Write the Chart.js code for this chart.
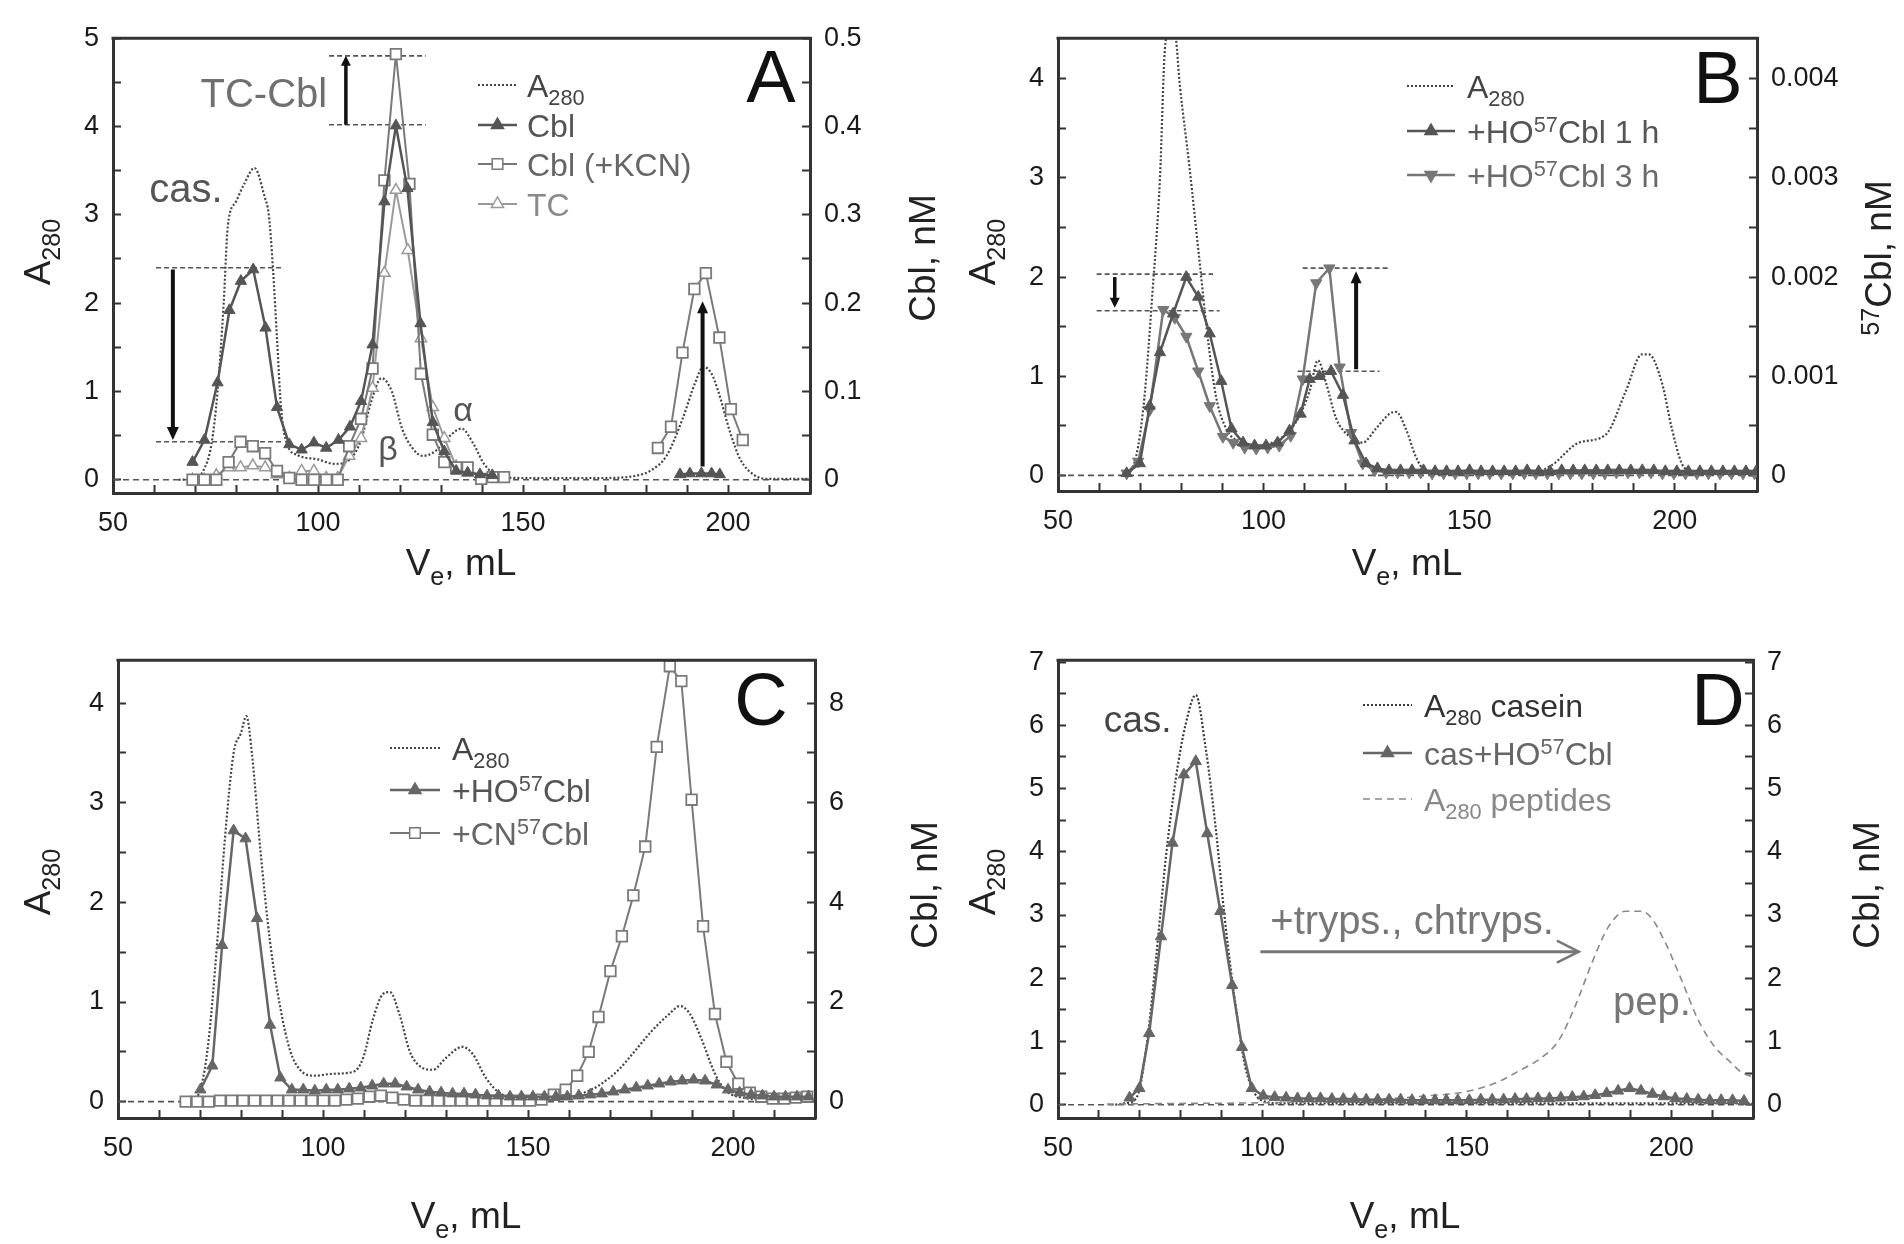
<!DOCTYPE html>
<html><head><meta charset="utf-8">
<script src="https://cdn.jsdelivr.net/npm/chart.js@4.4.1/dist/chart.umd.min.js"></script>
<style>
html,body{margin:0;padding:0;background:#fff;}
#wrap{position:relative;width:1904px;height:1244px;overflow:hidden;background:#fff;}
#wrap canvas{position:absolute;}
</style></head><body>
<div id="wrap">
<canvas id="cA" width="952" height="622" style="left:0px;top:0px"></canvas>
<canvas id="cB" width="952" height="622" style="left:952px;top:0px"></canvas>
<canvas id="cC" width="952" height="622" style="left:0px;top:622px"></canvas>
<canvas id="cD" width="952" height="622" style="left:952px;top:622px"></canvas>
</div>
<script>
// ================= DATA =================
// Panel A  (x: Ve, mL; A280 on left axis; Cbl series in nM on right axis)
const A_x_a280 = [66, 70, 72, 74, 75.5, 77, 78, 80, 82, 84.5, 87, 88, 89, 90, 91, 92.5, 95, 100, 104, 108, 110.5, 113, 115.5, 118, 120.5, 123, 125.5, 128.5, 132, 135, 138, 140.5, 144.5, 150, 160, 170, 178, 181, 185, 189, 192, 194, 196, 197.5, 200.5, 203, 206.5, 210, 220];
const A_y_a280 = [0, 0.02, 0.1, 0.4, 1.0, 2.0, 2.87, 3.15, 3.35, 3.53, 3.2, 3.0, 2.4, 1.6, 0.8, 0.4, 0.28, 0.23, 0.18, 0.24, 0.45, 0.89, 1.15, 1.0, 0.58, 0.36, 0.27, 0.32, 0.49, 0.58, 0.4, 0.18, 0.03, 0.02, 0.02, 0.02, 0.05, 0.1, 0.27, 0.7, 1.1, 1.28, 1.2, 1.02, 0.54, 0.23, 0.05, 0.01, 0.01];
const A_x_cbl = [69.4, 72.3, 75.5, 78.4, 81.2, 84.2, 87.2, 90, 93, 96, 99, 102, 105, 107.8, 110.5, 113.3, 116.2, 119, 121.8, 125, 128, 130.8, 133.7, 136.5, 139.5, 142.5, 165, 188.3, 190.7, 193.5, 196, 198];
const A_y_cbl = [0.020, 0.045, 0.110, 0.192, 0.225, 0.238, 0.172, 0.082, 0.040, 0.034, 0.042, 0.036, 0.045, 0.060, 0.089, 0.153, 0.315, 0.401, 0.330, 0.177, 0.065, 0.032, 0.010, 0.008, 0.006, 0.005, null, 0.006, 0.007, 0.007, 0.007, 0.006];
const A_x_kcn = [69.4, 72.3, 75.2, 78.2, 81.1, 84.1, 87.1, 90, 93, 96, 99, 102, 104.8, 107.6, 110.5, 113.3, 116.2, 119, 122.3, 125.1, 128, 130.8, 133.7, 136.5, 139.8, 142.6, 145.4, 165, 182.9, 186.1, 188.9, 191.8, 194.6, 197.9, 200.7, 203.6];
const A_y_kcn = [0, 0, 0, 0.020, 0.043, 0.038, 0.030, 0.010, 0.002, 0, 0, 0, 0, 0.038, 0.069, 0.126, 0.339, 0.482, 0.335, 0.120, 0.051, 0.020, 0.014, 0.014, 0.001, 0.003, 0.003, null, 0.036, 0.060, 0.144, 0.216, 0.234, 0.161, 0.080, 0.045];
const A_x_tc = [69.4, 72.3, 75.2, 78.2, 81.1, 84.1, 87.1, 90, 93, 96, 99, 102, 104.8, 107.6, 110.5, 113.3, 116.2, 119, 121.9, 125.1, 128, 130.8, 133.7, 136.5];
const A_y_tc = [0, 0, 0.005, 0.014, 0.014, 0.016, 0.014, 0.006, 0.002, 0.010, 0.010, 0.002, 0.002, 0.027, 0.047, 0.104, 0.234, 0.328, 0.260, 0.160, 0.082, 0.047, 0.015, 0.008];

// Panel B  (57Cbl in nM on right axis)
const B_x_a280 = [66, 69, 71, 73, 74.8, 76, 77.2, 78.5, 79.6, 82, 84.5, 86.5, 88.5, 90.9, 93.4, 96.6, 100.6, 104.7, 107.9, 111.2, 113.2, 115.2, 117.6, 120.9, 124.1, 127.3, 130.6, 132.2, 134.6, 137, 139.5, 145, 155, 165, 170, 176.7, 183.2, 188.1, 192, 193.7, 196.9, 199.3, 201.7, 204.1, 210, 220];
const B_y_a280 = [0, 0.19, 0.78, 1.86, 3.0, 4.3, 4.5, 4.45, 3.95, 3.1, 2.13, 1.36, 0.78, 0.47, 0.35, 0.29, 0.31, 0.39, 0.54, 0.85, 1.16, 0.93, 0.58, 0.39, 0.33, 0.47, 0.62, 0.64, 0.47, 0.19, 0.04, 0.02, 0.02, 0.02, 0.1, 0.33, 0.41, 0.85, 1.22, 1.22, 0.93, 0.47, 0.12, 0.04, 0.02, 0.02];
const B_x_1h = [66.7, 69.9, 72.3, 74.8, 78.0, 81.2, 84.1, 86.9, 89.7, 92.2, 95.0, 97.8, 100.6, 103.4, 106.3, 109.0, 111.2, 113.6, 116.4, 119.3, 122.1, 124.9, 127.7, 130.5, 133.3, 136.1, 138.9, 141.7, 144.5, 147.3, 150.1, 152.9, 155.7, 158.5, 161.3, 164.1, 166.9, 169.7, 172.5, 175.3, 178.1, 180.9, 183.7, 186.5, 189.3, 192.1, 194.9, 197.7, 200.5, 203.3, 206.1, 208.9, 211.7, 214.5, 217.3, 219.8];
const B_y_1h = [0.00002, 0.00012, 0.00070, 0.00124, 0.00163, 0.00200, 0.00180, 0.00143, 0.00095, 0.00047, 0.00033, 0.00030, 0.00030, 0.00033, 0.00045, 0.00062, 0.00097, 0.00100, 0.00105, 0.00081, 0.00035, 0.00012, 0.00007, 0.00005, 0.00005, 0.00005, 0.00005, 0.00004, 0.00004, 0.00004, 0.00005, 0.00004, 0.00004, 0.00004, 0.00004, 0.00005, 0.00004, 0.00004, 0.00005, 0.00005, 0.00005, 0.00005, 0.00005, 0.00005, 0.00005, 0.00005, 0.00005, 0.00004, 0.00004, 0.00004, 0.00004, 0.00004, 0.00004, 0.00004, 0.00004, 0.00004];
const B_x_3h = [66.7, 69.5, 72.3, 75.6, 78.4, 81.2, 84.1, 86.9, 90.1, 92.6, 95.4, 98.2, 101.0, 103.8, 106.6, 109.5, 112.8, 116.0, 118.5, 121.3, 124.1, 127.0, 129.8, 132.6, 135.4, 138.2, 141.0, 143.8, 146.6, 149.4, 152.2, 155.0, 157.8, 160.6, 163.4, 166.2, 169.0, 171.8, 174.6, 177.4, 180.2, 183.0, 185.8, 188.6, 191.4, 194.2, 197.0, 199.8, 202.6, 205.4, 208.2, 211.0, 213.8, 216.6, 219.4];
const B_y_3h = [0.00002, 0.00014, 0.00066, 0.00167, 0.00159, 0.00140, 0.00105, 0.00070, 0.00039, 0.00033, 0.00028, 0.00027, 0.00028, 0.00030, 0.00040, 0.00097, 0.00194, 0.00209, 0.00109, 0.00043, 0.00012, 0.00005, 0.00003, 0.00003, 0.00003, 0.00003, 0.00002, 0.00002, 0.00002, 0.00002, 0.00002, 0.00002, 0.00002, 0.00002, 0.00002, 0.00002, 0.00002, 0.00002, 0.00002, 0.00002, 0.00002, 0.00002, 0.00003, 0.00003, 0.00003, 0.00003, 0.00002, 0.00002, 0.00002, 0.00002, 0.00002, 0.00002, 0.00002, 0.00002, 0.00002];

// Panel C  (Cbl in nM on right axis)
const C_x_a280 = [66, 69.3, 71.8, 74.2, 76, 78.2, 80, 81.3, 82.7, 84.7, 87.1, 89.6, 92, 94.4, 97.7, 102.5, 107.4, 109.8, 112.2, 114.6, 116.3, 118.7, 121.1, 123.5, 126.8, 130, 134, 136.5, 139.7, 143, 150, 159, 163, 167.2, 172.1, 175.3, 180.2, 184.2, 187.1, 189.5, 192.3, 195.6, 198, 201.2, 210, 220];
const C_y_a280 = [0, 0.05, 0.51, 1.6, 2.6, 3.5, 3.7, 3.87, 3.48, 2.54, 1.6, 0.94, 0.51, 0.32, 0.26, 0.28, 0.3, 0.44, 0.83, 1.08, 1.1, 0.87, 0.51, 0.36, 0.32, 0.44, 0.55, 0.48, 0.24, 0.09, 0.02, 0.03, 0.08, 0.16, 0.32, 0.47, 0.71, 0.87, 0.96, 0.88, 0.63, 0.28, 0.12, 0.05, 0.02, 0.02];
const C_x_ho = [70.1, 73, 75.4, 78.2, 81.1, 83.9, 87.1, 89.6, 92.4, 95.2, 98, 100.8, 103.6, 106.4, 109.2, 112, 114.8, 117.6, 120.4, 123.2, 126, 128.8, 131.6, 134.4, 137.2, 140, 142.8, 145.6, 148.4, 151.2, 154, 156.8, 159.6, 162.4, 165.2, 168, 170.8, 173.6, 176.4, 179.2, 182, 184.8, 187.6, 190.4, 193.2, 196, 198.8, 201.6, 204.4, 207.2, 210, 212.8, 215.6, 218.4];
const C_y_ho = [0.24, 0.72, 3.14, 5.44, 5.28, 3.68, 1.54, 0.48, 0.24, 0.24, 0.22, 0.24, 0.24, 0.26, 0.28, 0.32, 0.36, 0.36, 0.30, 0.24, 0.20, 0.18, 0.16, 0.16, 0.14, 0.12, 0.12, 0.10, 0.10, 0.10, 0.10, 0.10, 0.10, 0.12, 0.14, 0.16, 0.20, 0.24, 0.28, 0.32, 0.36, 0.40, 0.42, 0.44, 0.42, 0.34, 0.24, 0.18, 0.14, 0.12, 0.10, 0.10, 0.10, 0.10];
const C_x_cn = [66.5, 69.3, 72.1, 74.9, 77.7, 80.5, 83.3, 86.1, 88.9, 91.7, 94.5, 97.3, 100.1, 102.9, 105.7, 108.5, 111.3, 114.1, 116.9, 119.7, 122.5, 125.3, 128.1, 130.9, 133.7, 136.5, 139.3, 142.1, 144.9, 147.7, 150.5, 153.3, 156.3, 159.2, 162.0, 164.8, 167.2, 170.1, 172.9, 175.7, 178.6, 181.4, 184.6, 187.4, 189.9, 192.7, 195.6, 198.4, 201.3, 204.1, 206.9, 209.7, 212.5, 215.3, 218.1];
const C_y_cn = [0, 0, 0, 0.02, 0.02, 0.02, 0.02, 0.02, 0.02, 0.02, 0.02, 0.02, 0.02, 0.02, 0.04, 0.06, 0.10, 0.12, 0.08, 0.04, 0.02, 0.02, 0.02, 0.02, 0.02, 0.02, 0.02, 0.02, 0.02, 0.02, 0.02, 0.04, 0.14, 0.24, 0.52, 1.00, 1.70, 2.62, 3.32, 4.14, 5.12, 7.12, 8.74, 8.44, 6.06, 3.52, 1.76, 0.80, 0.36, 0.18, 0.10, 0.06, 0.06, 0.08, 0.10];

// Panel D
const D_x_cas = [64, 65.9, 69.1, 71.5, 73.9, 76.4, 78.8, 81.2, 83.7, 86.1, 88.5, 90.9, 93.4, 95.8, 98.2, 100.6, 105, 120, 140, 160, 180, 200, 220];
const D_y_cas = [0, 0.02, 0.1, 0.85, 2.26, 3.92, 5.15, 6.01, 6.48, 5.65, 4.42, 2.88, 1.59, 0.6, 0.17, 0.05, 0.02, 0.02, 0.02, 0.02, 0.02, 0.02, 0.02];
const D_x_ho = [67.5, 69.9, 72.3, 75.2, 78.0, 80.8, 83.7, 86.5, 89.7, 92.6, 95.0, 97.4, 100.2, 103.0, 105.8, 108.6, 111.4, 114.2, 117.0, 119.8, 122.6, 125.4, 128.2, 131.0, 133.8, 136.6, 139.4, 142.2, 145.0, 147.8, 150.6, 153.4, 156.2, 159.0, 161.8, 164.6, 167.4, 170.2, 173.0, 175.8, 178.6, 181.4, 184.2, 187.0, 189.8, 192.6, 195.4, 198.2, 201.0, 203.8, 206.6, 209.4, 212.2, 215.0, 217.8];
const D_y_ho = [0.11, 0.26, 1.13, 2.66, 4.14, 5.22, 5.43, 4.29, 3.06, 1.89, 0.91, 0.26, 0.14, 0.12, 0.11, 0.10, 0.10, 0.10, 0.09, 0.09, 0.09, 0.08, 0.08, 0.08, 0.08, 0.07, 0.07, 0.07, 0.07, 0.07, 0.07, 0.08, 0.08, 0.08, 0.09, 0.09, 0.10, 0.10, 0.11, 0.12, 0.13, 0.15, 0.18, 0.22, 0.26, 0.22, 0.17, 0.13, 0.10, 0.09, 0.08, 0.07, 0.07, 0.07, 0.06];
const D_x_pep = [62, 80, 100, 120, 140.3, 149.2, 156.5, 162.9, 168.6, 172.6, 176.7, 180.7, 184.7, 188.8, 192.9, 195.3, 198.5, 202.6, 206.6, 210.7, 214.7, 217.2, 220];
const D_y_pep = [0.01, 0.02, 0.03, 0.06, 0.14, 0.2, 0.33, 0.54, 0.76, 1.03, 1.59, 2.26, 2.82, 3.06, 3.06, 2.94, 2.57, 1.96, 1.34, 0.91, 0.66, 0.51, 0.44];

// Axis tick labels
const X_LABELS = [50, 100, 150, 200];

// ================= DRAWING HELPERS =================
const FONT = '"Liberation Sans", Arial, Helvetica, sans-serif';

function parseRich(str) {
  const out = []; const re = /([_^])\{([^}]*)\}/g; let last = 0, m;
  while ((m = re.exec(str))) {
    if (m.index > last) out.push({t: str.slice(last, m.index)});
    out.push({t: m[2], s: m[1] === '_' ? 'sub' : 'sup'});
    last = re.lastIndex;
  }
  if (last < str.length) out.push({t: str.slice(last)});
  return out;
}
function drawRich(ctx, str, x, y, size, color, align, rot, weight) {
  const segs = parseRich(str);
  const w8 = weight || 'normal';
  const sc = 0.68;
  ctx.save();
  ctx.translate(x, y);
  if (rot) ctx.rotate(rot);
  let w = 0;
  for (const s of segs) { ctx.font = `${w8} ${s.s ? size * sc : size}px ${FONT}`; w += ctx.measureText(s.t).width; }
  let cx = align === 'center' ? -w / 2 : (align === 'right' ? -w : 0);
  ctx.fillStyle = color; ctx.textBaseline = 'alphabetic'; ctx.textAlign = 'left';
  const base = size * 0.36;
  for (const s of segs) {
    const fs = s.s ? size * sc : size;
    ctx.font = `${w8} ${fs}px ${FONT}`;
    const dy = s.s === 'sub' ? size * 0.26 : (s.s === 'sup' ? -size * 0.34 : 0);
    ctx.fillText(s.t, cx, base + dy);
    cx += ctx.measureText(s.t).width;
  }
  ctx.restore();
}
function drawMarker(ctx, style, x, y, r, fill, stroke, lw) {
  ctx.save(); ctx.beginPath();
  if (style === 'triangle' || style === 'triangleDown') {
    const s = style === 'triangle' ? 1 : -1;
    ctx.moveTo(x, y - s * r); ctx.lineTo(x + r * 0.866, y + s * r * 0.5); ctx.lineTo(x - r * 0.866, y + s * r * 0.5);
    ctx.closePath();
  } else if (style === 'rect') {
    const h = r * Math.SQRT1_2; ctx.rect(x - h, y - h, 2 * h, 2 * h);
  }
  ctx.fillStyle = fill; ctx.fill(); ctx.lineWidth = lw; ctx.strokeStyle = stroke; ctx.stroke();
  ctx.restore();
}
function arrowHead(ctx, x, y, ang, len, half, open) {
  ctx.save(); ctx.translate(x, y); ctx.rotate(ang); ctx.beginPath();
  if (open) { ctx.moveTo(-len, -half); ctx.lineTo(0, 0); ctx.lineTo(-len, half); ctx.stroke(); }
  else { ctx.moveTo(0, 0); ctx.lineTo(-len, -half); ctx.lineTo(-len, half); ctx.closePath(); ctx.fill(); }
  ctx.restore();
}

// ================= DECORATION (legends, titles, annotations) =================
const LEG = 32, TTL = 37, LET = 74;
const DOT = [2, 2];
const DECOR = {
  cA: {
    off: [0, 0],
    refLines: [[60.5, 91, 2.4], [60.5, 91, 0.43], [102.7, 126.3, 4.8], [102.7, 126.3, 4.02]],
    vArrows: [[64.6, 2.38, 0.45, 4, 13, 6], [106.8, 4.02, 4.8, 3.5, 10, 5], [193.8, 0.15, 2.02, 4, 12, 5.5]],
    hArrows: [],
    texts: [{t: 'TC-Cbl', x: 86.8, y: 4.38, size: 40, color: '#6f6f6f'}, {t: 'cas.', x: 67.8, y: 3.31, size: 40, color: '#555'},
            {t: 'β', x: 117.1, y: 0.36, size: 34, color: '#555'}, {t: 'α', x: 135.4, y: 0.8, size: 34, color: '#555'}],
    legend: {sx: [478, 517], tx: 527, size: LEG, rows: [
      {y: 85, t: 'A_{280}', color: '#444', line: '#444', dash: DOT, lw: 2.2},
      {y: 125, t: 'Cbl', color: '#555', line: '#555', lw: 2.5, mk: 'triangle', fill: '#555', stroke: '#555'},
      {y: 164, t: 'Cbl (+KCN)', color: '#666', line: '#777', lw: 2, mk: 'rect', fill: '#fff', stroke: '#777'},
      {y: 204, t: 'TC', color: '#8a8a8a', line: '#999', lw: 2, mk: 'triangle', fill: '#fff', stroke: '#999'}]},
    titles: {left: ['A_{280}', 37, 252], right: ['Cbl, nM', 922, 258], bottom: ['V_{e}, mL', 461, 562]},
    letter: ['A', 771, 75]
  },
  cB: {
    off: [952, 0],
    refLines: [[59.4, 87.7, 2.03], [59.4, 89.3, 1.66], [109.5, 130.6, 2.09], [108.3, 128.2, 1.05]],
    vArrows: [[63.8, 2.0, 1.69, 3.5, 10, 5], [122.5, 1.07, 2.06, 4, 12, 5.5]],
    hArrows: [],
    texts: [],
    legend: {sx: [1407, 1455], tx: 1467, size: LEG, rows: [
      {y: 86, t: 'A_{280}', color: '#444', line: '#444', dash: DOT, lw: 2.2},
      {y: 131, t: '+HO^{57}Cbl 1 h', color: '#555', line: '#555', lw: 2.5, mk: 'triangle', fill: '#555', stroke: '#555'},
      {y: 175, t: '+HO^{57}Cbl 3 h', color: '#6a6a6a', line: '#777', lw: 2.5, mk: 'triangleDown', fill: '#777', stroke: '#777'}]},
    titles: {left: ['A_{280}', 982, 252], right: ['^{57}Cbl, nM', 1878, 258], bottom: ['V_{e}, mL', 1407, 562]},
    letter: ['B', 1718, 76]
  },
  cC: {
    off: [0, 622],
    refLines: [], vArrows: [], hArrows: [], texts: [],
    legend: {sx: [390, 440], tx: 452, size: LEG, rows: [
      {y: 748, t: 'A_{280}', color: '#444', line: '#444', dash: DOT, lw: 2.2},
      {y: 790, t: '+HO^{57}Cbl', color: '#555', line: '#666', lw: 2.5, mk: 'triangle', fill: '#666', stroke: '#666'},
      {y: 833, t: '+CN^{57}Cbl', color: '#666', line: '#777', lw: 2, mk: 'rect', fill: '#fff', stroke: '#777'}]},
    titles: {left: ['A_{280}', 37, 882], right: ['Cbl, nM', 924, 885], bottom: ['V_{e}, mL', 466, 1215]},
    letter: ['C', 761, 698]
  },
  cD: {
    off: [952, 622],
    refLines: [], vArrows: [],
    hArrows: [[99.5, 177.4, 2.42]],
    texts: [{t: 'cas.', x: 69.5, y: 6.1, size: 37, color: '#444'}, {t: '+tryps., chtryps.', x: 136.6, y: 2.93, size: 40, color: '#777'},
            {t: 'pep.', x: 195.3, y: 1.64, size: 40, color: '#777'}],
    legend: {sx: [1363, 1412], tx: 1424, size: LEG, rows: [
      {y: 705, t: 'A_{280} casein', color: '#333', line: '#3a3a3a', dash: DOT, lw: 2.2},
      {y: 753, t: 'cas+HO^{57}Cbl', color: '#666', line: '#666', lw: 2.5, mk: 'triangle', fill: '#666', stroke: '#666'},
      {y: 799, t: 'A_{280} peptides', color: '#888', line: '#888', dash: [7, 5], lw: 1.6}]},
    titles: {left: ['A_{280}', 982, 882], right: ['Cbl, nM', 1866, 885], bottom: ['V_{e}, mL', 1405, 1215]},
    letter: ['D', 1718, 698]
  }
};

const decorPlugin = {
  id: 'decor',
  beforeDatasetsDraw(chart) {
    const o = DECOR[chart.canvas.id]; const ctx = chart.ctx; const ca = chart.chartArea;
    const xs = chart.scales.x, ys = chart.scales.y;
    ctx.save();
    ctx.beginPath(); ctx.rect(ca.left, ca.top, ca.right - ca.left, ca.bottom - ca.top); ctx.clip();
    ctx.strokeStyle = '#555'; ctx.lineWidth = 1.6; ctx.setLineDash([6, 4]);
    const y0 = ys.getPixelForValue(0);
    ctx.beginPath(); ctx.moveTo(ca.left, y0); ctx.lineTo(ca.right, y0); ctx.stroke();
    ctx.strokeStyle = '#555'; ctx.setLineDash([5, 3]); ctx.lineWidth = 1.6;
    for (const r of o.refLines) {
      const py = ys.getPixelForValue(r[2]);
      ctx.beginPath(); ctx.moveTo(xs.getPixelForValue(r[0]), py); ctx.lineTo(xs.getPixelForValue(r[1]), py); ctx.stroke();
    }
    ctx.restore();
  },
  afterDatasetsDraw(chart) {
    const o = DECOR[chart.canvas.id]; const ctx = chart.ctx;
    const xs = chart.scales.x, ys = chart.scales.y;
    ctx.save();
    for (const a of o.vArrows) {
      const px = xs.getPixelForValue(a[0]), p1 = ys.getPixelForValue(a[1]), p2 = ys.getPixelForValue(a[2]);
      const dir = p2 > p1 ? 1 : -1;
      ctx.strokeStyle = '#111'; ctx.fillStyle = '#111'; ctx.lineWidth = a[3]; ctx.setLineDash([]);
      ctx.beginPath(); ctx.moveTo(px, p1); ctx.lineTo(px, p2 - dir * a[4] * 0.8); ctx.stroke();
      arrowHead(ctx, px, p2, dir > 0 ? Math.PI / 2 : -Math.PI / 2, a[4], a[5], false);
    }
    for (const a of o.hArrows) {
      const x1 = xs.getPixelForValue(a[0]), x2 = xs.getPixelForValue(a[1]), py = ys.getPixelForValue(a[2]);
      ctx.strokeStyle = '#777'; ctx.lineWidth = 3; ctx.setLineDash([]);
      ctx.beginPath(); ctx.moveTo(x1, py); ctx.lineTo(x2 - 1, py); ctx.stroke();
      ctx.lineWidth = 2.5; arrowHead(ctx, x2, py, 0, 22, 11, true);
    }
    for (const t of o.texts) {
      drawRich(ctx, t.t, xs.getPixelForValue(t.x), ys.getPixelForValue(t.y), t.size, t.color, 'center');
    }
    ctx.restore();
  },
  afterDraw(chart) {
    const o = DECOR[chart.canvas.id]; const ctx = chart.ctx; const ca = chart.chartArea;
    const ox = o.off[0], oy = o.off[1];
    ctx.save();
    ctx.strokeStyle = '#333'; ctx.lineWidth = 3; ctx.setLineDash([]);
    ctx.beginPath(); ctx.moveTo(ca.left - 1.5, ca.top); ctx.lineTo(ca.right + 1.5, ca.top); ctx.stroke();
    const L = o.legend;
    for (const r of L.rows) {
      const y = r.y - oy, x0 = L.sx[0] - ox, x1 = L.sx[1] - ox;
      ctx.strokeStyle = r.line; ctx.lineWidth = r.lw; ctx.setLineDash(r.dash || []);
      ctx.beginPath(); ctx.moveTo(x0, y); ctx.lineTo(x1, y); ctx.stroke();
      ctx.setLineDash([]);
      if (r.mk) drawMarker(ctx, r.mk, (x0 + x1) / 2, y, r.mk === 'rect' ? 7.5 : 7, r.fill, r.stroke, 1.5);
      drawRich(ctx, r.t, L.tx - ox, y, L.size, r.color, 'left');
    }
    const T = o.titles;
    drawRich(ctx, T.left[0], T.left[1] - ox, T.left[2] - oy, TTL, '#222', 'center', -Math.PI / 2);
    drawRich(ctx, T.right[0], T.right[1] - ox, T.right[2] - oy, TTL, '#222', 'center', -Math.PI / 2);
    drawRich(ctx, T.bottom[0], T.bottom[1] - ox, T.bottom[2] - oy, TTL, '#222', 'center');
    drawRich(ctx, o.letter[0], o.letter[1] - ox, o.letter[2] - oy, LET, '#111', 'center');
    ctx.restore();
  }
};

// ================= CHART BUILDERS =================
function pts(xs, ys) { return xs.map((x, i) => ({x: x, y: ys[i]})); }
function ds(xs, ys, axis, st) {
  return Object.assign({data: pts(xs, ys), yAxisID: axis, spanGaps: false, tension: 0, fill: false}, st);
}
const dotted = c => ({borderColor: c, borderWidth: 2.2, borderDash: DOT, pointRadius: 0, cubicInterpolationMode: 'monotone'});
const dashed = c => ({borderColor: c, borderWidth: 1.6, borderDash: [7, 5], pointRadius: 0, cubicInterpolationMode: 'monotone'});
const triFill = (c, rot) => ({borderColor: c, borderWidth: 2.5, pointStyle: 'triangle', pointRotation: rot || 0, pointRadius: 6.5, pointBackgroundColor: c, pointBorderColor: c, pointBorderWidth: 1});
const triOpen = c => ({borderColor: c, borderWidth: 2, pointStyle: 'triangle', pointRadius: 6.5, pointBackgroundColor: '#fff', pointBorderColor: c, pointBorderWidth: 1.5});
const sqOpen = c => ({borderColor: c, borderWidth: 2, pointStyle: 'rect', pointRadius: 7.5, pointBackgroundColor: '#fff', pointBorderColor: c, pointBorderWidth: 1.8});

const near = (v, r) => Math.abs(v - r) < 1e-9;
const fmtInt = v => near(v, Math.round(v)) ? String(Math.round(v)) : '';
const fmtX = v => X_LABELS.indexOf(Math.round(v)) >= 0 && near(v, Math.round(v)) ? String(Math.round(v)) : '';
const fmtTenth = v => { const t = v * 10, r = Math.round(t); return Math.abs(t - r) < 1e-6 ? (r === 0 ? '0' : (r / 10).toFixed(1)) : ''; };
const fmtMilli = v => { const t = v * 1000, r = Math.round(t); return Math.abs(t - r) < 1e-6 ? (r === 0 ? '0' : (r / 1000).toFixed(3)) : ''; };
const fmtEven = v => { const r = Math.round(v); return near(v, r) && r % 2 === 0 ? String(r) : ''; };

const tickFont = {family: FONT, size: 27};
function yAxis(pos, min, max, step, fmt, width, pad) {
  return {
    type: 'linear', position: pos, min: min, max: max,
    afterFit: s => { s.width = width; },
    ticks: {stepSize: step, autoSkip: false, includeBounds: false, padding: pad, color: '#1a1a1a', font: tickFont, callback: fmt},
    grid: {drawOnChartArea: false, drawTicks: true, tickLength: -8, tickWidth: 2, tickColor: '#333'},
    border: {display: true, color: '#333', width: 3}
  };
}
function xAxis(height) {
  return {
    type: 'linear', position: 'bottom', min: 50, max: 220,
    afterFit: s => { s.height = height; },
    ticks: {stepSize: 10, autoSkip: false, includeBounds: false, maxRotation: 0, padding: 22, color: '#1a1a1a', font: tickFont, callback: fmtX},
    grid: {drawOnChartArea: false, drawTicks: true, tickLength: -8, tickWidth: 2, tickColor: '#333'},
    border: {display: true, color: '#333', width: 3}
  };
}
function makeChart(id, g, datasets, yL, yR) {
  return new Chart(document.getElementById(id), {
    type: 'line',
    data: {datasets: datasets},
    options: {
      responsive: false, animation: false, events: [],
      layout: {padding: {top: g.top - g.cy, left: 0, right: 0, bottom: 0}},
      plugins: {legend: {display: false}, tooltip: {enabled: false}},
      scales: {
        x: xAxis(g.cy + 622 - g.bottom),
        y: yAxis('left', yL[0], yL[1], yL[2], yL[3], g.left - g.cx, 22),
        y2: yAxis('right', yR[0], yR[1], yR[2], yR[3], g.cx + 952 - g.right, 22)
      }
    },
    plugins: [decorPlugin]
  });
}

makeChart('cA', {cx: 0, cy: 0, left: 113, top: 28, right: 810, bottom: 493}, [
  ds(A_x_cbl, A_y_cbl, 'y2', triFill('#555')),
  ds(A_x_kcn, A_y_kcn, 'y2', sqOpen('#7a7a7a')),
  ds(A_x_tc, A_y_tc, 'y2', triOpen('#9a9a9a')),
  ds(A_x_a280, A_y_a280, 'y', dotted('#444'))
], [-0.15, 5, 0.5, fmtInt], [-0.015, 0.5, 0.05, fmtTenth]);

makeChart('cB', {cx: 952, cy: 0, left: 1058, top: 27, right: 1757, bottom: 491}, [
  ds(B_x_1h, B_y_1h, 'y2', triFill('#555')),
  ds(B_x_3h, B_y_3h, 'y2', triFill('#777', 180)),
  ds(B_x_a280, B_y_a280, 'y', dotted('#444'))
], [-0.158, 4.41, 0.5, fmtInt], [-0.000158, 0.00441, 0.0005, fmtMilli]);

makeChart('cC', {cx: 0, cy: 622, left: 118, top: 650, right: 815, bottom: 1118}, [
  ds(C_x_ho, C_y_ho, 'y2', triFill('#666')),
  ds(C_x_cn, C_y_cn, 'y2', sqOpen('#7a7a7a')),
  ds(C_x_a280, C_y_a280, 'y', dotted('#444'))
], [-0.164, 4.43, 0.5, fmtInt], [-0.328, 8.86, 1, fmtEven]);

makeChart('cD', {cx: 952, cy: 622, left: 1058, top: 650, right: 1753, bottom: 1118}, [
  ds(D_x_ho, D_y_ho, 'y2', triFill('#666')),
  ds(D_x_pep, D_y_pep, 'y', dashed('#888')),
  ds(D_x_cas, D_y_cas, 'y', dotted('#3a3a3a'))
], [-0.21, 7.03, 0.5, fmtInt], [-0.21, 7.03, 0.5, fmtInt]);
</script>
</body></html>
